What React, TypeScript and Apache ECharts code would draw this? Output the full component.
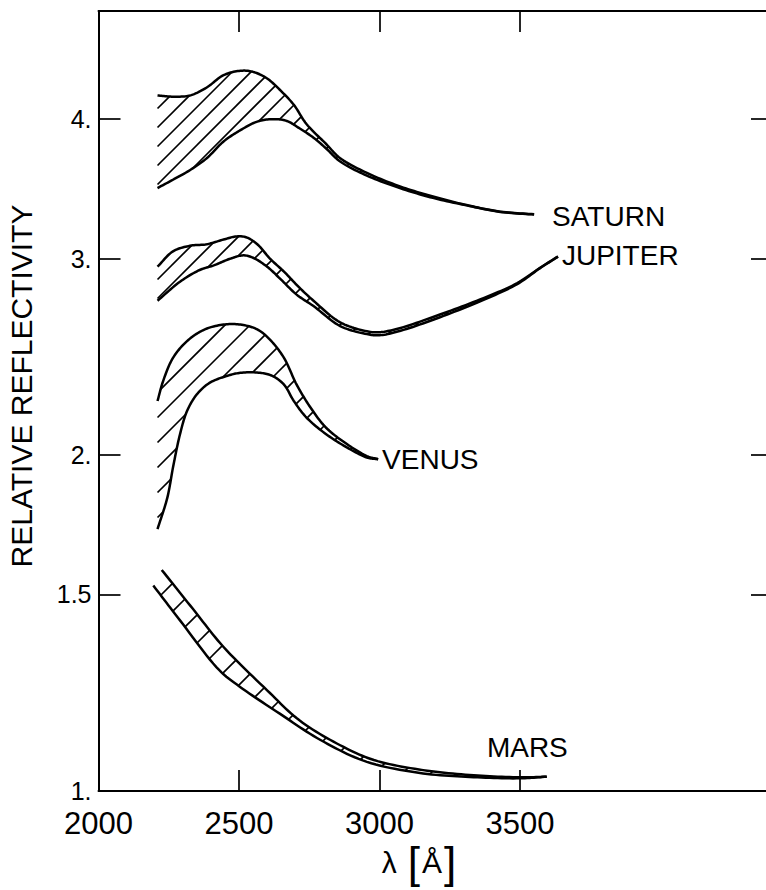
import React, { useEffect, useRef } from 'react';
import * as echarts from 'echarts';

// ---------- data ----------
const xTickValues = [2500, 3000, 3500];
const xLabelValues = [2000, 2500, 3000, 3500];
const yTickValues = [1.5, 2, 3, 4];
const yLabelValues = [1, 1.5, 2, 3, 4];
const yTickLabels = ['1.', '1.5', '2.', '3.', '4.'];

const saturnUpper = [
  [2210, 4.2], [2265, 4.19], [2325, 4.2], [2385, 4.27], [2445, 4.38], [2505, 4.42], [2550, 4.41],
  [2600, 4.35], [2645, 4.25], [2695, 4.12], [2740, 3.96], [2810, 3.8], [2860, 3.69], [2955, 3.58],
  [3075, 3.48], [3190, 3.41], [3310, 3.35], [3430, 3.305], [3550, 3.287],
];
const saturnLower = [
  [2210, 3.47], [2265, 3.53], [2325, 3.6], [2385, 3.69], [2445, 3.82], [2505, 3.91], [2565, 3.98],
  [2620, 4.0], [2670, 3.985], [2715, 3.925], [2765, 3.85], [2810, 3.765], [2860, 3.665], [2955, 3.56],
  [3075, 3.468], [3190, 3.4], [3310, 3.348], [3430, 3.303], [3550, 3.285],
];
const jupiterUpper = [
  [2210, 2.95], [2265, 3.045], [2325, 3.08], [2385, 3.09], [2445, 3.12], [2490, 3.14], [2525, 3.135],
  [2565, 3.09], [2610, 3.0], [2660, 2.92], [2715, 2.825], [2765, 2.75], [2860, 2.63], [2955, 2.582],
  [3000, 2.577], [3075, 2.6], [3215, 2.673], [3370, 2.765], [3490, 2.852], [3570, 2.942], [3635, 3.013],
];
const jupiterLower = [
  [2210, 2.75], [2290, 2.86], [2360, 2.93], [2410, 2.958], [2470, 3.0], [2515, 3.02], [2550, 3.005],
  [2600, 2.95], [2645, 2.88], [2705, 2.785], [2765, 2.72], [2860, 2.61], [2955, 2.567], [3000, 2.561],
  [3075, 2.585], [3215, 2.658], [3370, 2.755], [3490, 2.846], [3570, 2.94], [3635, 3.012],
];
const venusUpper = [
  [2210, 2.236], [2230, 2.33], [2265, 2.444], [2315, 2.53], [2375, 2.59], [2445, 2.618], [2505, 2.618],
  [2565, 2.592], [2610, 2.538], [2660, 2.444], [2705, 2.313], [2755, 2.205], [2810, 2.116], [2885, 2.045],
  [2955, 1.996], [2995, 1.983],
];
const venusLower = [
  [2210, 1.717], [2245, 1.832], [2265, 1.949], [2290, 2.088], [2315, 2.19], [2350, 2.267], [2395, 2.321],
  [2455, 2.354], [2505, 2.37], [2575, 2.37], [2620, 2.354], [2660, 2.313], [2695, 2.236], [2740, 2.161],
  [2810, 2.088], [2885, 2.031], [2955, 1.99], [2995, 1.983],
];
const marsUpper = [
  [2225, 1.578], [2335, 1.457], [2445, 1.346], [2600, 1.231], [2715, 1.157], [2860, 1.099], [2980, 1.066],
  [3155, 1.044], [3335, 1.033], [3500, 1.0286], [3595, 1.03],
];
const marsLower = [
  [2195, 1.528], [2290, 1.422], [2430, 1.283], [2505, 1.239], [2645, 1.173], [2790, 1.111], [2955, 1.062],
  [3155, 1.037], [3335, 1.029], [3500, 1.0265], [3595, 1.03],
];

const planetNames = ['SATURN', 'JUPITER', 'VENUS', 'MARS'];
const labelAnchors = [[3614, 3.275], [3649, 3.02], [3009, 1.98], [3382, 1.093]];

// ---------- styles ----------
const FONT = '"Liberation Sans", Arial, sans-serif';
const INK = '#000';

// centripetal Catmull-Rom for smooth pixel curves
function smoothPts(pts: number[][], steps = 12): number[][] {
  const n = pts.length;
  if (n < 3) return pts.slice();
  const ext = (a: number[], b: number[]) => [2 * a[0] - b[0], 2 * a[1] - b[1]];
  const P = [ext(pts[0], pts[1]), ...pts, ext(pts[n - 1], pts[n - 2])];
  const d = (a: number[], b: number[]) => Math.max(Math.sqrt(Math.hypot(b[0] - a[0], b[1] - a[1])), 1e-4);
  const out: number[][] = [];
  for (let i = 1; i < P.length - 2; i++) {
    const p0 = P[i - 1], p1 = P[i], p2 = P[i + 1], p3 = P[i + 2];
    const t0 = 0, t1 = t0 + d(p0, p1), t2 = t1 + d(p1, p2), t3 = t2 + d(p2, p3);
    const L = (a: number[], b: number[], ta: number, tb: number, t: number) => {
      const u = (t - ta) / (tb - ta);
      return [a[0] + (b[0] - a[0]) * u, a[1] + (b[1] - a[1]) * u];
    };
    for (let s = 0; s < steps; s++) {
      const t = t1 + ((t2 - t1) * s) / steps;
      const A1 = L(p0, p1, t0, t1, t), A2 = L(p1, p2, t1, t2, t), A3 = L(p2, p3, t2, t3, t);
      const B1 = L(A1, A2, t0, t2, t), B2 = L(A2, A3, t1, t3, t);
      out.push(L(B1, B2, t1, t2, t));
    }
  }
  out.push(pts[n - 1]);
  return out;
}

function bandSeries(name: string, upper: number[][], lower: number[][], step: number) {
  return {
    type: 'custom',
    name,
    coordinateSystem: 'cartesian2d',
    silent: true,
    clip: false,
    data: [upper[0]],
    renderItem: (params: any, api: any) => {
      const up = smoothPts(upper.map((p) => api.coord(p)));
      const lo = smoothPts(lower.map((p) => api.coord(p)));
      const poly = up.concat(lo.slice().reverse());
      const n = poly.length;
      let minC = Infinity, maxC = -Infinity;
      for (const p of poly) {
        const c = p[0] + p[1];
        if (c < minC) minC = c;
        if (c > maxC) maxC = c;
      }
      const children: any[] = [];
      for (let c = Math.ceil(minC / step) * step; c <= maxC; c += step) {
        const hits: number[][] = [];
        for (let i = 0; i < n; i++) {
          const a = poly[i], b = poly[(i + 1) % n];
          const fa = a[0] + a[1] - c, fb = b[0] + b[1] - c;
          if ((fa < 0) !== (fb < 0)) {
            const t = fa / (fa - fb);
            hits.push([a[0] + t * (b[0] - a[0]), a[1] + t * (b[1] - a[1])]);
          }
        }
        hits.sort((p, q) => p[0] - q[0]);
        for (let k = 0; k + 1 < hits.length; k += 2) {
          children.push({
            type: 'line',
            shape: { x1: hits[k][0], y1: hits[k][1], x2: hits[k + 1][0], y2: hits[k + 1][1] },
            style: { stroke: INK, lineWidth: 1.7 },
          });
        }
      }
      children.push({ type: 'polyline', shape: { points: up }, style: { stroke: INK, lineWidth: 2.5, fill: 'none' } });
      children.push({ type: 'polyline', shape: { points: lo }, style: { stroke: INK, lineWidth: 2.5, fill: 'none' } });
      return { type: 'group', children };
    },
  };
}

const commonX = {
  type: 'value',
  min: 2000,
  max: 4400,
  splitLine: { show: false },
  axisLine: { show: true, onZero: false, lineStyle: { color: INK, width: 2 } },
  axisTick: { show: true, inside: true, length: 21, customValues: xTickValues, lineStyle: { color: INK, width: 1.7 } },
};
const commonY = {
  type: 'log',
  logBase: 10,
  min: 1,
  max: 5,
  splitLine: { show: false },
  axisLine: { show: true, onZero: false, lineStyle: { color: INK, width: 2 } },
  axisTick: { show: true, inside: true, length: 22, customValues: yTickValues, lineStyle: { color: INK, width: 1.7 } },
};

const option: any = {
  animation: false,
  backgroundColor: '#fff',
  grid: { left: 98.5, top: 11, width: 674.5, height: 780, containLabel: false, outerBoundsMode: 'none' },
  xAxis: [
    {
      ...commonX,
      position: 'bottom',
      axisLabel: {
        show: true,
        customValues: xLabelValues,
        margin: 17,
        color: INK,
        fontSize: 31,
        fontFamily: FONT,
        formatter: (v: number) => String(v),
      },
    },
    { ...commonX, position: 'top', axisLabel: { show: false } },
  ],
  yAxis: [
    {
      ...commonY,
      position: 'left',
      axisLabel: {
        show: true,
        customValues: yLabelValues,
        margin: 7,
        color: INK,
        fontSize: 25,
        fontFamily: FONT,
        formatter: (v: number) => {
          const i = yLabelValues.findIndex((u) => Math.abs(u - v) < 1e-6);
          return i >= 0 ? yTickLabels[i] : '';
        },
      },
    },
    { ...commonY, position: 'right', axisLabel: { show: false } },
  ],
  graphic: [
    {
      type: 'text',
      x: 21,
      y: 386,
      rotation: Math.PI / 2,
      style: { text: 'RELATIVE REFLECTIVITY', fill: INK, fontSize: 30, fontFamily: FONT, align: 'center', verticalAlign: 'middle' },
    },
    {
      type: 'text',
      x: 420,
      y: 862,
      style: {
        text: '{a|λ}{s| }{b|[}{a|Å}{b|]}',
        fill: INK,
        align: 'center',
        verticalAlign: 'middle',
        rich: {
          a: { fontSize: 30, fontFamily: FONT, fill: INK },
          s: { fontSize: 30, fontFamily: FONT, width: 9 },
          b: { fontSize: 44, fontFamily: FONT, fill: INK, padding: [0, 2, 0, 2] },
        },
      },
    },
  ],
  series: [
    bandSeries('Saturn', saturnUpper, saturnLower, 19),
    bandSeries('Jupiter', jupiterUpper, jupiterLower, 19),
    bandSeries('Venus', venusUpper, venusLower, 25),
    bandSeries('Mars', marsUpper, marsLower, 28),
    {
      type: 'custom',
      name: 'labels',
      coordinateSystem: 'cartesian2d',
      silent: true,
      clip: false,
      data: labelAnchors,
      renderItem: (params: any, api: any) => {
        const p = api.coord([api.value(0), api.value(1)]);
        return {
          type: 'text',
          x: p[0],
          y: p[1],
          style: {
            text: planetNames[params.dataIndex],
            fill: INK,
            fontSize: 28,
            fontFamily: FONT,
            align: 'left',
            verticalAlign: 'middle',
          },
        };
      },
    },
  ],
};

export default function App() {
  const ref = useRef<HTMLDivElement>(null);
  useEffect(() => {
    const chart = echarts.init(ref.current as HTMLDivElement, null, { renderer: 'svg' });
    chart.setOption(option);
    return () => chart.dispose();
  }, []);
  return (
    <div
      style={{ position: 'fixed', left: 0, top: 0, width: 766, height: 890, overflow: 'hidden', background: '#fff' }}
    >
      <div ref={ref} style={{ width: 800, height: 890 }} />
    </div>
  );
}
